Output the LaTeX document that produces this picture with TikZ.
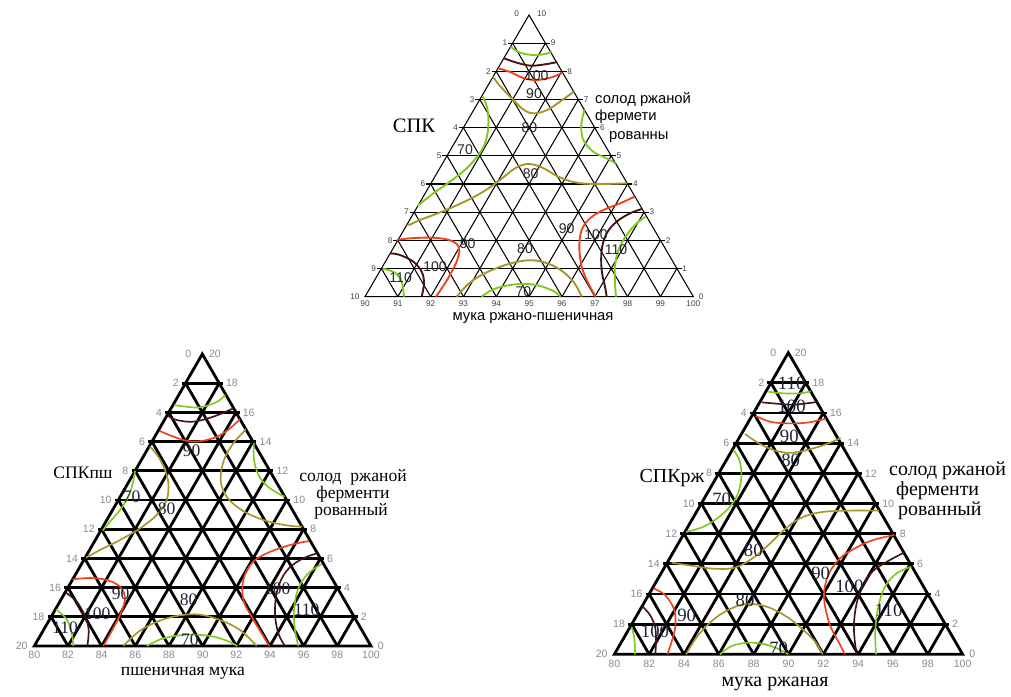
\documentclass[tikz,border=0pt]{standalone}
\usepackage{fontspec}
\setmainfont{Liberation Serif}
\newfontfamily\arialfont{Liberation Sans}
\usetikzlibrary{calc}

\definecolor{cgreen}{RGB}{128,200,30}
\definecolor{colive}{RGB}{165,150,40}
\definecolor{cred}{RGB}{240,65,25}
\definecolor{cdark}{RGB}{70,18,18}
\definecolor{cnum}{RGB}{30,35,55}

\tikzset{
  gridthin/.style={line width=0.9pt, black},
  gridthick/.style={line width=2.4pt, black},
  isotop/.style={line width=1.6pt, smooth, tension=0.6},
  isobot/.style={line width=1.4pt, smooth, tension=0.6},
  ticktop/.style={font=\arialfont\fontsize{7}{8}\selectfont, text=black!75, inner sep=0.5pt},
  tickbot/.style={font=\arialfont\fontsize{9}{10}\selectfont, text=black!45, inner sep=0.5pt},
  valtop/.style={font=\arialfont\fontsize{12}{14}\selectfont, text=black!85, inner sep=0pt},
  valbot/.style={font=\fontsize{15}{17}\selectfont, text=cnum, inner sep=0pt},
  valbotr/.style={font=\fontsize{16}{18}\selectfont, text=cnum, inner sep=0pt},
  ttlserif/.style={font=\fontsize{17.5}{20}\selectfont, inner sep=0pt},
  ttlsans/.style={font=\arialfont\fontsize{12.6}{15}\selectfont, inner sep=0pt},
  ttlbot/.style={font=\fontsize{15}{17}\selectfont, inner sep=0pt},
  ttlbotr/.style={font=\fontsize{17}{19}\selectfont, inner sep=0pt},
}

\begin{document}
\begin{tikzpicture}[x=0.03cm, y=-0.03cm]
\path[use as bounding box, fill=white] (0,0) rectangle (1011,696);

% ---------------- upper diagram: 10 divisions ----------------
\begin{scope}[shift={(340,0)}, scale=1/3]
  \coordinate (tA) at (567,45);
  \coordinate (tL) at (75,890);
  \coordinate (tR) at (1060,890);
  \foreach \i in {1,...,9}{
    \draw[gridthin, shorten <=-4pt, shorten >=-4pt] ($(tA)!\i/10!(tL)$) -- ($(tA)!\i/10!(tR)$);
    \draw[gridthin] ($(tL)!\i/10!(tR)$) -- ($(tA)!\i/10!(tR)$);
    \draw[gridthin] ($(tL)!\i/10!(tR)$) -- ($(tL)!\i/10!(tA)$);
  }
  \draw[gridthin] (tA) -- (tL) -- (tR) -- cycle;

  % contour lines
  \draw[isotop, cgreen] plot coordinates {(512,140) (540,158) (580,165) (615,162) (636,155)};
  \draw[isotop, cdark]  plot coordinates {(492,175) (530,188) (572,197) (615,193) (652,186)};
  \draw[isotop, cred]   plot coordinates {(475,205) (510,216) (550,234) (590,240) (635,232) (668,218)};
  \draw[isotop, colive] plot coordinates {(459,230) (480,258) (520,300) (552,330) (582,340) (622,330) (660,305) (701,275)};
  \draw[isotop, cgreen] plot coordinates {(428,290) (442,325) (445,380) (435,430) (415,465) (380,505) (330,545) (280,580) (232,618)};
  \draw[isotop, colive] plot coordinates {(205,676) (240,660) (280,645) (330,625) (400,592) (450,562) (490,532) (525,505) (562,492) (605,502) (655,530) (705,547) (765,552) (862,550)};
  \draw[isotop, cgreen] plot coordinates {(733,330) (724,375) (730,420) (760,455) (800,475) (827,490)};
  \draw[isotop, cred]   plot coordinates {(884,590) (840,610) (790,630) (750,655) (725,690) (718,740) (725,800) (745,850) (767,890)};
  \draw[isotop, cdark]  plot coordinates {(905,627) (870,640) (830,665) (800,700) (785,750) (785,810) (795,860) (800,890)};
  \draw[isotop, cgreen] plot coordinates {(917,650) (890,670) (860,705) (835,750) (825,800) (825,850) (828,890)};
  \draw[isotop, cred]   plot coordinates {(170,720) (210,715) (270,713) (320,718) (350,732) (358,752) (350,785) (335,815) (315,850) (288,890)};
  \draw[isotop, cdark]  plot coordinates {(151,760) (180,765) (220,785) (245,815) (252,850) (245,890)};
  \draw[isotop, cgreen] plot coordinates {(128,806) (165,818) (185,845) (192,890)};
  \draw[isotop, colive] plot coordinates {(350,890) (385,852) (430,822) (490,797) (545,783) (590,782) (635,795) (675,820) (705,852) (725,890)};
  \draw[isotop, cgreen] plot coordinates {(425,890) (460,868) (510,855) (560,852) (600,858) (640,873) (662,890)};

  % contour values
  \node[valtop] (tv1) at (590,228) {100};
  \node[valtop] (tv2) at (582,280) {90};
  \node[valtop] (tv3) at (568,383) {80};
  \node[valtop] (tv4) at (375,450) {70};
  \node[valtop] (tv5) at (572,520) {80};
  \node[valtop] (tv6) at (680,685) {90};
  \node[valtop] (tv7) at (768,705) {100};
  \node[valtop] (tv8) at (828,750) {110};
  \node[valtop] (tv9) at (383,730) {90};
  \node[valtop] (tv10) at (285,800) {100};
  \node[valtop] (tv11) at (182,833) {110};
  \node[valtop] (tv12) at (555,745) {80};
  \node[valtop] (tv13) at (550,876) {70};

  % scale marks
  \node[ticktop] (tla0) at (530,40) {0};
  \node[ticktop] (tra0) at (605,40) {10};
  \foreach \i in {1,...,10}{
    \pgfmathtruncatemacro\rv{10-\i}
    \node[ticktop, anchor=east] (tl\i) at ($(tA)!\i/10!(tL)+(-14,0)$) {\i};
    \node[ticktop, anchor=west] (tr\i) at ($(tA)!\i/10!(tR)+(14,0)$) {\rv};
  }
  \foreach \i in {0,...,10}{
    \pgfmathtruncatemacro\bv{90+\i}
    \node[ticktop, anchor=north] (tb\i) at ($(tL)!\i/10!(tR)+(0,9)$) {\bv};
  }
\end{scope}

\node[ttlserif] (spk) at (414,126) {СПК};
\node[ttlsans, anchor=west] (t1a) at (595,100) {солод ржаной};
\node[ttlsans, anchor=west] (t1b) at (595,117) {фермети};
\node[ttlsans, anchor=west] (t1c) at (609,137) {рованны};
\node[ttlsans] (t1d) at (533,318) {мука ржано-пшеничная};

% ---------------- lower left diagram: 20 units ----------------
\begin{scope}[shift={(0,340)}, scale=1/3]
  \coordinate (lA) at (607,42);
  \coordinate (lL) at (103,918);
  \coordinate (lR) at (1113,918);
  \foreach \i in {1,...,9}{
    \draw[gridthick, shorten <=-3pt, shorten >=-3pt] ($(lA)!\i/10!(lL)$) -- ($(lA)!\i/10!(lR)$);
    \draw[gridthick] ($(lL)!\i/10!(lR)$) -- ($(lA)!\i/10!(lR)$);
    \draw[gridthick] ($(lL)!\i/10!(lR)$) -- ($(lL)!\i/10!(lA)$);
  }
  \draw[gridthick, line join=miter] (lA) -- (lL) -- (lR) -- cycle;

  \draw[isobot, cgreen] plot coordinates {(522,195) (550,199) (600,202) (650,186) (676,165)};
  \draw[isobot, cdark]  plot coordinates {(505,228) (530,240) (580,245) (640,230) (700,205)};
  \draw[isobot, cred]   plot coordinates {(480,273) (520,290) (570,304) (620,300) (670,280) (720,238)};
  \draw[isobot, colive] plot coordinates {(450,320) (475,350) (495,390) (505,430) (500,480) (470,525) (420,565) (360,600) (300,630) (258,653)};
  \draw[isobot, cgreen] plot coordinates {(405,393) (398,430) (385,470) (360,510) (330,545) (308,572)};
  \draw[isobot, colive] plot coordinates {(738,268) (700,310) (672,360) (662,420) (680,470) (725,510) (790,540) (860,556) (907,560)};
  \draw[isobot, cgreen] plot coordinates {(762,310) (762,360) (778,410) (810,445) (854,470)};
  \draw[isobot, cred]   plot coordinates {(928,603) (870,615) (800,640) (755,670) (730,720) (730,780) (755,830) (785,880) (808,918)};
  \draw[isobot, cdark]  plot coordinates {(950,640) (900,660) (858,695) (832,750) (825,820) (835,880) (855,918)};
  \draw[isobot, cgreen] plot coordinates {(965,672) (925,700) (895,745) (882,810) (885,870) (895,918)};
  \draw[isobot, cred]   plot coordinates {(218,718) (270,714) (320,720) (360,740) (375,775) (362,820) (338,868) (310,918)};
  \draw[isobot, cdark]  plot coordinates {(198,758) (230,785) (255,828) (266,870) (262,918)};
  \draw[isobot, cgreen] plot coordinates {(168,808) (200,838) (215,878) (220,918)};
  \draw[isobot, colive] plot coordinates {(370,918) (420,872) (480,842) (540,826) (600,824) (660,840) (720,870) (770,918)};
  \draw[isobot, cgreen] plot coordinates {(440,918) (490,895) (560,884) (630,888) (680,902) (712,918)};

  \node[valbot] (lv1) at (575,333) {90};
  \node[valbot] (lv2) at (395,470) {70};
  \node[valbot] (lv3) at (500,505) {80};
  \node[valbot] (lv4) at (362,762) {90};
  \node[valbot] (lv5) at (566,780) {80};
  \node[valbot] (lv6) at (832,745) {100};
  \node[valbot] (lv7) at (920,810) {110};
  \node[valbot] (lv8) at (292,820) {100};
  \node[valbot] (lv9) at (195,862) {110};
  \node[valbot] (lv10) at (570,900) {70};

  \node[tickbot] (lla0) at (565,42) {0};
  \node[tickbot] (lra0) at (645,42) {20};
  \foreach \i in {1,...,10}{
    \pgfmathtruncatemacro\lv{2*\i}
    \pgfmathtruncatemacro\rv{20-2*\i}
    \node[tickbot, anchor=east] (ll\i) at ($(lA)!\i/10!(lL)+(-18,0)$) {\lv};
    \node[tickbot, anchor=west] (lr\i) at ($(lA)!\i/10!(lR)+(18,0)$) {\rv};
  }
  \foreach \i in {0,...,10}{
    \pgfmathtruncatemacro\bv{80+2*\i}
    \node[tickbot, anchor=north] (lb\i) at ($(lL)!\i/10!(lR)+(0,14)$) {\bv};
  }
\end{scope}

\node[ttlbot] (spkp) at (83,473) {СПКпш};
\node[ttlbot] (l1a) at (353,477) {солод\ \ ржаной};
\node[ttlbot] (l1b) at (353,494) {ферменти};
\node[ttlbot] (l1c) at (351,511) {рованный};
\node[ttlbot] (l1d) at (183,673) {пшеничная мука};

% ---------------- lower right diagram: 20 units ----------------
\begin{scope}[shift={(580,340)}, scale=1/3]
  \coordinate (rA) at (625,38);
  \coordinate (rL) at (103,943);
  \coordinate (rR) at (1148,943);
  \foreach \i in {1,...,9}{
    \draw[gridthick, shorten <=-3pt, shorten >=-3pt] ($(rA)!\i/10!(rL)$) -- ($(rA)!\i/10!(rR)$);
    \draw[gridthick] ($(rL)!\i/10!(rR)$) -- ($(rA)!\i/10!(rR)$);
    \draw[gridthick] ($(rL)!\i/10!(rR)$) -- ($(rL)!\i/10!(rA)$);
  }
  \draw[gridthick, line join=miter] (rA) -- (rL) -- (rR) -- cycle;

  \draw[isobot, cgreen] plot coordinates {(565,155) (610,160) (660,160) (692,154)};
  \draw[isobot, cdark]  plot coordinates {(545,187) (590,191) (640,194) (680,190) (712,186)};
  \draw[isobot, cred]   plot coordinates {(527,228) (570,245) (620,250) (680,248) (738,236)};
  \draw[isobot, colive] plot coordinates {(495,282) (540,312) (590,333) (640,338) (700,325) (745,310) (782,294)};
  \draw[isobot, cgreen] plot coordinates {(460,330) (478,360) (484,410) (470,470) (430,520) (375,558) (318,576)};
  \draw[isobot, colive] plot coordinates {(275,668) (340,678) (400,686) (460,684) (510,660) (560,620) (610,572) (660,535) (720,517) (800,512) (897,512)};
  \draw[isobot, cred]   plot coordinates {(943,585) (880,600) (830,622) (780,655) (745,705) (732,770) (748,850) (778,910) (795,943)};
  \draw[isobot, cdark]  plot coordinates {(972,638) (930,660) (880,692) (850,735) (830,790) (822,850) (824,900) (830,943)};
  \draw[isobot, cgreen] plot coordinates {(994,680) (950,700) (915,740) (895,800) (886,870) (888,943)};
  \draw[isobot, cred]   plot coordinates {(220,745) (255,765) (282,808) (286,858) (275,905) (262,943)};
  \draw[isobot, cdark]  plot coordinates {(188,800) (210,825) (225,860) (228,900) (226,943)};
  \draw[isobot, cgreen] plot coordinates {(155,862) (163,895) (165,943)};
  \draw[isobot, colive] plot coordinates {(318,943) (355,885) (405,835) (455,805) (500,792) (560,800) (620,830) (670,870) (708,908) (728,943)};
  \draw[isobot, cgreen] plot coordinates {(420,943) (455,918) (505,908) (555,913) (598,928) (625,943)};

  \node[valbotr] (rv1) at (635,130) {110};
  \node[valbotr] (rv2) at (635,198) {100};
  \node[valbotr] (rv3) at (628,288) {90};
  \node[valbotr] (rv4) at (632,362) {80};
  \node[valbotr] (rv5) at (425,478) {70};
  \node[valbotr] (rv6) at (520,630) {80};
  \node[valbotr] (rv7) at (722,700) {90};
  \node[valbotr] (rv8) at (808,738) {100};
  \node[valbotr] (rv9) at (926,810) {110};
  \node[valbotr] (rv10) at (495,782) {80};
  \node[valbotr] (rv11) at (320,825) {90};
  \node[valbotr] (rv12) at (225,875) {100};
  \node[valbotr] (rv13) at (596,926) {70};

  \node[tickbot] (rla0) at (580,40) {0};
  \node[tickbot] (rra0) at (662,40) {20};
  \foreach \i in {1,...,10}{
    \pgfmathtruncatemacro\lv{2*\i}
    \pgfmathtruncatemacro\rv{20-2*\i}
    \node[tickbot, anchor=east] (rl\i) at ($(rA)!\i/10!(rL)+(-18,0)$) {\lv};
    \node[tickbot, anchor=west] (rr\i) at ($(rA)!\i/10!(rR)+(18,0)$) {\rv};
  }
  \foreach \i in {0,...,10}{
    \pgfmathtruncatemacro\bv{80+2*\i}
    \node[tickbot, anchor=north] (rb\i) at ($(rL)!\i/10!(rR)+(0,16)$) {\bv};
  }
\end{scope}

\node[ttlbotr] (spkr) at (672,478) {СПКрж};
\node[ttlbotr, anchor=west] (r1a) at (889,471) {солод ржаной};
\node[ttlbotr, anchor=west] (r1b) at (896,491) {ферменти};
\node[ttlbotr, anchor=west] (r1c) at (898,511) {рованный};
\node[ttlbotr] (r1d) at (775,684) {мука ржаная};
\end{tikzpicture}
\end{document}
